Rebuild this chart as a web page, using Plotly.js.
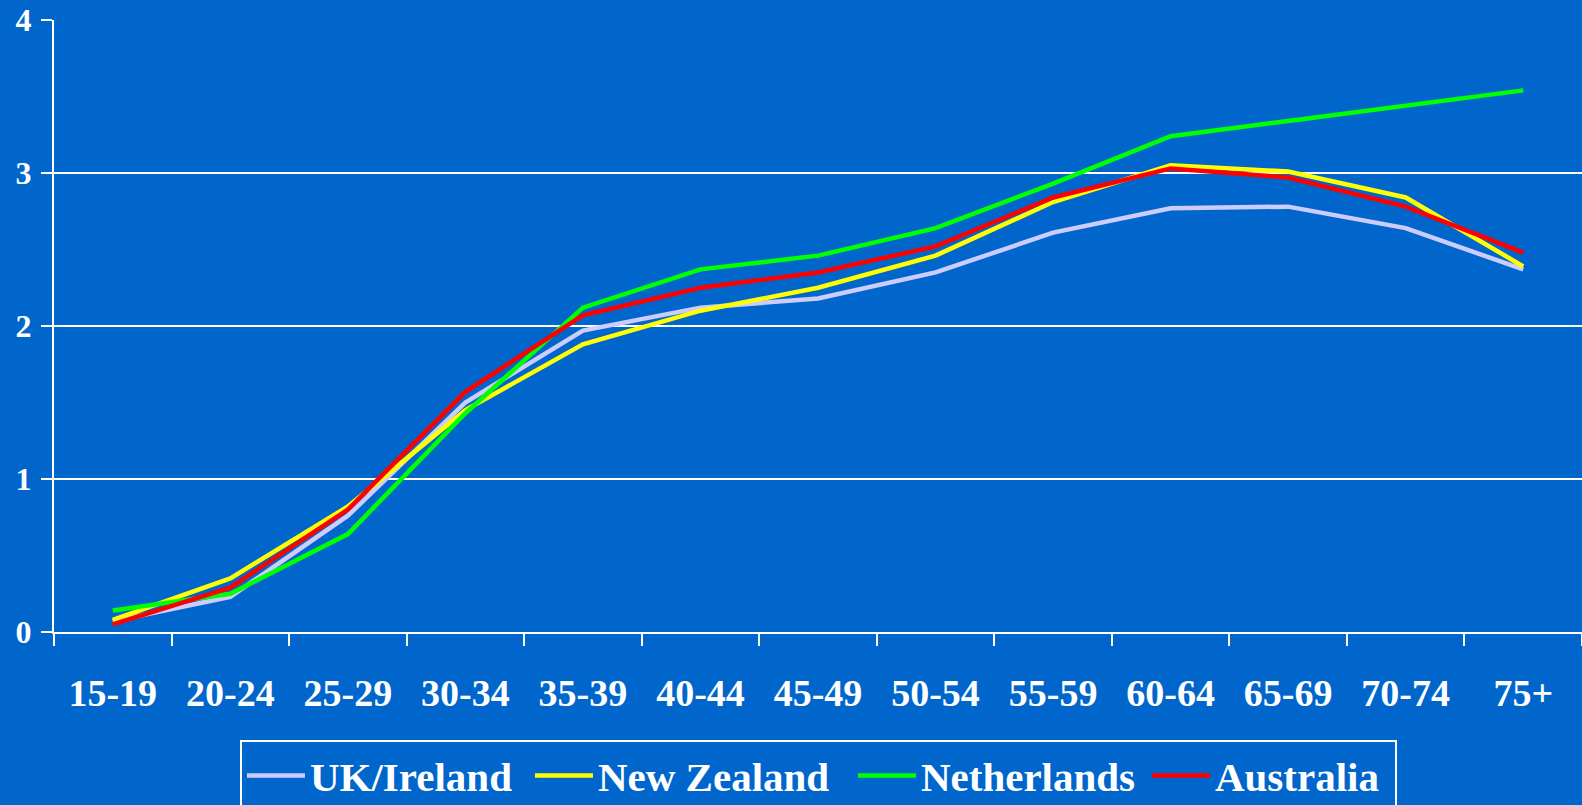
<!DOCTYPE html>
<html>
<head>
<meta charset="utf-8">
<script src="https://cdn.plot.ly/plotly-3.0.1.min.js"></script>
<style>
html,body{margin:0;padding:0;background:#0066CC;}
#chart{width:1582px;height:805px;}
</style>
</head>
<body>
<div id="chart"></div>
<script>
const ageGroups = ["15-19","20-24","25-29","30-34","35-39","40-44","45-49","50-54","55-59","60-64","65-69","70-74","75+"];
const ukIreland   = [0.07,0.23,0.76,1.50,1.97,2.12,2.18,2.35,2.61,2.77,2.78,2.64,2.37];
const newZealand  = [0.08,0.35,0.82,1.45,1.88,2.10,2.25,2.46,2.81,3.05,3.01,2.84,2.39];
const netherlands = [0.14,0.25,0.64,1.43,2.12,2.37,2.46,2.64,2.93,3.24,3.34,3.44,3.54];
const australia   = [0.05,0.29,0.80,1.57,2.07,2.25,2.35,2.52,2.84,3.03,2.97,2.78,2.48];
const seriesNames = ["UK/Ireland","New Zealand","Netherlands","Australia"];
const seriesColors = ["#CCCCFF","#FFFF00","#00FF00","#FF0000"];
const seriesValues = [ukIreland,newZealand,netherlands,australia];
const legendWidths = [215,250,221,175];

const fontFamily = "Liberation Serif, Times New Roman, serif";

const traces = seriesValues.map((vals,i)=>({
  type:"scatter",
  mode:"lines",
  x: ageGroups,
  y: vals,
  name: seriesNames[i],
  legendwidth: legendWidths[i],
  line:{color:seriesColors[i], width:4.5}
}));

const layout = {
  width:1582, height:805,
  paper_bgcolor:"#0066CC",
  plot_bgcolor:"#0066CC",
  margin:{l:54,r:0,t:20,b:173,autoexpand:false},
  showlegend:true,
  xaxis:{
    type:"category",
    range:[-0.5,12.5],
    showgrid:false,
    showline:true, linecolor:"#FFFFFF", linewidth:2,
    ticks:"outside", ticklen:12, tickwidth:2, tickcolor:"#FFFFFF",
    tickson:"boundaries",
    ticklabelstandoff:26,
    tickfont:{family:fontFamily, size:38, color:"#FFFFFF", weight:"bold"},
    zeroline:false
  },
  yaxis:{
    range:[0,4],
    dtick:1,
    showgrid:true, gridcolor:"#FFFFFF", gridwidth:2,
    showline:true, linecolor:"#FFFFFF", linewidth:2,
    ticks:"outside", ticklen:11, tickwidth:2, tickcolor:"#FFFFFF",
    ticklabelstandoff:3,
    tickfont:{family:fontFamily, size:32, color:"#FFFFFF", weight:"bold"},
    zeroline:false
  },
  legend:{
    orientation:"h",
    x:0.1217, xanchor:"left",
    y:-0.177, yanchor:"top",
    bgcolor:"rgba(0,0,0,0)",
    bordercolor:"#FFFFFF", borderwidth:2,
    itemwidth:58,
    font:{family:fontFamily, size:41, color:"#FFFFFF", weight:"bold"}
  }
};

Plotly.newPlot("chart", traces, layout, {displayModeBar:false, staticPlot:true});
</script>
</body>
</html>
